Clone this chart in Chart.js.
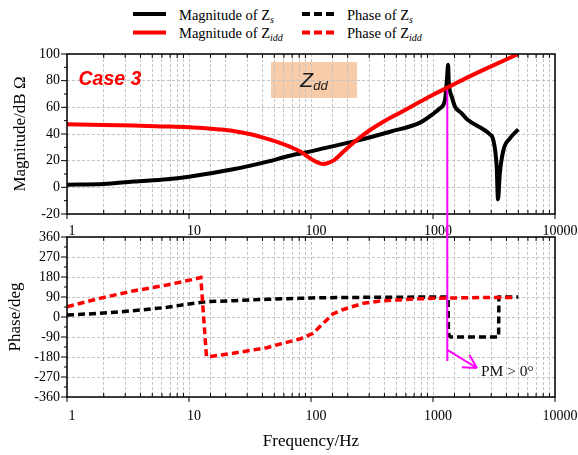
<!DOCTYPE html>
<html>
<head>
<meta charset="utf-8">
<script src="https://cdn.jsdelivr.net/npm/chart.js@4.4.0/dist/chart.umd.min.js"></script>
<style>
  body { margin: 0; background: #fff; width: 578px; height: 455px; position: relative; overflow: hidden;
         font-family: "Liberation Serif", "Times New Roman", serif; }
  canvas { position: absolute; left: 0; }
  #topChart { top: 40px; }
  #botChart { top: 226px; }
  #legendLines { position: absolute; left: 0; top: 0; }
  .lg { position: absolute; font-size: 14.5px; line-height: 1; white-space: nowrap; color: #000; }
  .lg sub { font-style: italic; font-size: 10px; vertical-align: -3px; line-height: 0; }
</style>
</head>
<body>

<svg id="legendLines" width="578" height="45">
  <line x1="133" y1="14" x2="166" y2="14" stroke="#000" stroke-width="4"/>
  <line x1="302" y1="14" x2="334" y2="14" stroke="#000" stroke-width="4" stroke-dasharray="8,4"/>
  <line x1="133" y1="32.5" x2="166" y2="32.5" stroke="#ff0000" stroke-width="4"/>
  <line x1="302" y1="32.5" x2="334" y2="32.5" stroke="#ff0000" stroke-width="4" stroke-dasharray="8,4"/>
</svg>
<div class="lg" style="left:179px;top:8px">Magnitude of Z<sub>s</sub></div>
<div class="lg" style="left:347px;top:8px">Phase of Z<sub>s</sub></div>
<div class="lg" style="left:179px;top:26px">Magnitude of Z<sub>idd</sub></div>
<div class="lg" style="left:347px;top:26px">Phase of Z<sub>idd</sub></div>

<canvas id="topChart" width="578" height="196"></canvas>
<canvas id="botChart" width="578" height="229"></canvas>

<script>
/* ---------- data ---------- */
const freqTicks  = [1, 10, 100, 1000, 10000];
const magTicks   = [-20, 0, 20, 40, 60, 80, 100];
const phaseTicks = [-360, -270, -180, -90, 0, 90, 180, 270, 360];

// magnitude of Zs (black, solid)
const zsMagFreq = [1, 2, 3.5, 6.6, 10, 23, 44, 67, 100, 126, 238, 444, 782, 1000, 1140, 1254, 1300, 1330,
                   1345, 1370, 1423, 1515, 1719, 1900, 2590, 2900, 3120, 3326, 3410, 3530, 3780, 4270, 5000];
const zsMag     = [2, 2.5, 4.3, 6, 8, 13.5, 19.3, 23.7, 27, 29.2, 35, 41.7, 48.5, 55, 59.3, 65.5, 80.5, 92,
                   80, 73, 68, 60.5, 55.5, 51, 43.5, 40, 35.5, 15.5, -9, 10.5, 28, 36.7, 43.5];

// magnitude of Zidd (red, solid)
const zddMagFreq = [1, 2, 3.5, 6, 10, 17, 23, 32, 44, 57, 67, 81, 104.5, 126, 152, 184, 237, 305, 392, 537,
                    782, 1000, 1330, 1900, 3120, 5000];
const zddMag     = [47.3, 46.8, 46.3, 45.7, 45, 43.5, 42.3, 39.8, 36.3, 33, 30.5, 27, 20.3, 17.5, 20, 26.7,
                    35.5, 43, 49.2, 56, 64.2, 69.5, 75, 82.3, 91.5, 100];

// phase of Zs (black, dashed)
const zsPhaseFreq = [1, 1.86, 3.47, 6.6, 10, 14, 23, 43.6, 81, 100, 200, 500, 1000, 1330, 1338, 1365, 1400,
                     3450, 3470, 5000];
const zsPhase     = [9, 16.5, 28, 43.5, 58.5, 69, 73.5, 79.5, 84, 86, 88, 89, 90, 90, -73, -86, -90,
                     -90, 90, 90];

// phase of Zidd (red, dashed)
const zddPhaseFreq = [1, 1.86, 3.47, 6.6, 10.85, 12.5, 13.9, 15, 23, 43.6, 56, 81, 104, 126, 151, 179, 209,
                      269, 368, 505, 689, 1000, 2000, 4800];
const zddPhase     = [46, 84, 117, 144, 169.5, 178, -178, -178, -163, -138, -121.5, -99, -73.5, -28.5, 13.5,
                      31.5, 43.5, 61.5, 72, 76.5, 81, 84, 87, 88];

/* ---------- annotations (data coordinates) ---------- */
const caseLabel = { text: 'Case 3', f: 2.25, v: 80.5 };
const zddBox = { f0: 47, f1: 238, v0: 67, v1: 94 };
const pmFreq = 1310;
const pmTopMag = 73;
const pmBottomPhase = -198;
const pmArrow = { f0: 1310, v0: -148, f1: 2290, v1: -229.5 };
const pmLabel = { text: 'PM > 0°', f: 2470, v: -247.5 };

const SERIF = '"Liberation Serif", "Times New Roman", serif';
const SANS = '"Liberation Sans", Arial, sans-serif';
const MAGENTA = '#ff00ff';
const GRID = '#c4c4c4';

Chart.defaults.font.family = SERIF;
Chart.defaults.color = '#000';

const pts = (fs, vs) => fs.map((f, i) => ({ x: f, y: vs[i] }));
const isDecade = v => Math.abs(Math.log10(v) - Math.round(Math.log10(v))) < 1e-6;

function freqAxis(labelPad, height, title) {
  return {
    type: 'logarithmic', min: 1, max: 10000,
    grid: { color: GRID, lineWidth: 1, drawTicks: false },
    border: { display: false, dash: [3, 2] },
    ticks: {
      autoSkip: false, maxRotation: 0, padding: labelPad, labelOffset: 5, font: { size: 14 },
      callback: v => freqTicks.some(t => Math.abs(t - v) < 1e-6) ? String(v) : ''
    },
    title: title
      ? { display: true, text: title, font: { size: 17 }, padding: { top: 0, bottom: 3 } }
      : { display: false },
    afterFit: s => { s.height = height; s.paddingLeft = 0; s.paddingRight = 0; }
  };
}

function valueAxis(min, max, tickList, title, titlePad) {
  return {
    min: min, max: max,
    afterBuildTicks: s => { s.ticks = tickList.map(v => ({ value: v })); },
    grid: { color: GRID, lineWidth: 1, drawTicks: false },
    border: { display: false, dash: [3, 2] },
    ticks: { autoSkip: false, padding: 7, font: { size: 14 } },
    title: { display: true, text: title, font: { size: 17 }, padding: { top: titlePad, bottom: 0 } },
    afterFit: s => { s.width = 67; s.paddingTop = 0; s.paddingBottom = 0; }
  };
}

// black frame, outward y ticks (major + minor), x ticks on the box edges
function drawFrame(chart) {
  const { ctx, chartArea: a, scales: { x, y } } = chart;
  ctx.save();
  ctx.strokeStyle = '#000';
  ctx.lineWidth = 1;
  ctx.beginPath();
  x.ticks.forEach(t => {
    const px = x.getPixelForValue(t.value);
    if (isDecade(t.value)) {
      ctx.moveTo(px, a.bottom); ctx.lineTo(px, a.bottom + 5);
    } else {
      ctx.moveTo(px, a.bottom); ctx.lineTo(px, a.bottom - 4);
      ctx.moveTo(px, a.top); ctx.lineTo(px, a.top + 4);
    }
  });
  const yv = y.ticks.map(t => t.value);
  yv.forEach((v, i) => {
    const py = y.getPixelForValue(v);
    ctx.moveTo(a.left - 6, py); ctx.lineTo(a.left, py);
    if (i < yv.length - 1) {
      const pm = y.getPixelForValue((v + yv[i + 1]) / 2);
      ctx.moveTo(a.left - 3, pm); ctx.lineTo(a.left, pm);
    }
  });
  ctx.stroke();
  ctx.lineWidth = 1.5;
  ctx.strokeRect(a.left, a.top, a.right - a.left, a.bottom - a.top);
  ctx.restore();
}

const topDecor = {
  id: 'topDecor',
  beforeDraw(chart) {
    const { ctx, scales: { x, y } } = chart;
    const x0 = x.getPixelForValue(zddBox.f0), x1 = x.getPixelForValue(zddBox.f1);
    const y0 = y.getPixelForValue(zddBox.v1), y1 = y.getPixelForValue(zddBox.v0);
    ctx.save();
    ctx.fillStyle = '#f8cba9';
    ctx.fillRect(x0, y0, x1 - x0, y1 - y0);
    ctx.restore();
  },
  beforeDatasetsDraw(chart) {
    const { ctx, scales: { x, y } } = chart;
    ctx.save();
    // Case 3
    ctx.font = 'italic bold 19.5px ' + SANS;
    ctx.fillStyle = '#ff0000';
    ctx.textAlign = 'center';
    ctx.textBaseline = 'middle';
    ctx.fillText(caseLabel.text, x.getPixelForValue(caseLabel.f), y.getPixelForValue(caseLabel.v));
    // Z_dd
    const cx = (x.getPixelForValue(zddBox.f0) + x.getPixelForValue(zddBox.f1)) / 2;
    const cy = (y.getPixelForValue(zddBox.v0) + y.getPixelForValue(zddBox.v1)) / 2;
    const zFont = 'italic 21px ' + SANS, dFont = 'italic 13px ' + SANS;
    ctx.font = zFont; const wz = ctx.measureText('Z').width;
    ctx.font = dFont; const wd = ctx.measureText('dd').width;
    const sx = cx - (wz + wd) / 2;
    ctx.fillStyle = '#1a1a1a';
    ctx.textAlign = 'left';
    ctx.textBaseline = 'alphabetic';
    ctx.font = zFont; ctx.fillText('Z', sx, cy + 7);
    ctx.font = dFont; ctx.fillText('dd', sx + wz, cy + 10);
    ctx.restore();
  },
  afterDatasetsDraw(chart) {
    drawFrame(chart);
    const { ctx, scales: { x, y } } = chart;
    const px = x.getPixelForValue(pmFreq);
    ctx.save();
    ctx.strokeStyle = MAGENTA;
    ctx.lineWidth = 2;
    ctx.beginPath();
    ctx.moveTo(px, y.getPixelForValue(pmTopMag));
    ctx.lineTo(px, chart.height);
    ctx.stroke();
    ctx.restore();
  }
};

const botDecor = {
  id: 'botDecor',
  afterDatasetsDraw(chart) {
    drawFrame(chart);
    const { ctx, scales: { x, y } } = chart;
    const px = x.getPixelForValue(pmFreq);
    ctx.save();
    ctx.strokeStyle = MAGENTA;
    ctx.lineWidth = 2;
    ctx.beginPath();
    ctx.moveTo(px, 0);
    ctx.lineTo(px, y.getPixelForValue(pmBottomPhase));
    // arrow
    const ax0 = x.getPixelForValue(pmArrow.f0), ay0 = y.getPixelForValue(pmArrow.v0);
    const ax1 = x.getPixelForValue(pmArrow.f1), ay1 = y.getPixelForValue(pmArrow.v1);
    ctx.moveTo(ax0, ay0);
    ctx.lineTo(ax1, ay1);
    const ang = Math.atan2(ay0 - ay1, ax0 - ax1);
    [-0.5, 0.5].forEach(d => {
      ctx.moveTo(ax1, ay1);
      ctx.lineTo(ax1 + 15 * Math.cos(ang + d), ay1 + 15 * Math.sin(ang + d));
    });
    ctx.stroke();
    ctx.font = '15.5px ' + SERIF;
    ctx.fillStyle = '#111';
    ctx.textAlign = 'left';
    ctx.textBaseline = 'middle';
    ctx.fillText(pmLabel.text, x.getPixelForValue(pmLabel.f), y.getPixelForValue(pmLabel.v));
    ctx.restore();
  }
};

const common = {
  responsive: false,
  animation: false,
  devicePixelRatio: 1,
  events: [],
  plugins: { legend: { display: false }, tooltip: { enabled: false } },
  elements: { point: { radius: 0 } }
};

new Chart(document.getElementById('topChart'), {
  type: 'line',
  data: {
    datasets: [
      { label: 'Magnitude of Zidd', data: pts(zddMagFreq, zddMag), borderColor: '#ff0000', borderWidth: 4,
        cubicInterpolationMode: 'monotone' },
      { label: 'Magnitude of Zs', data: pts(zsMagFreq, zsMag), borderColor: '#000000', borderWidth: 4,
        cubicInterpolationMode: 'monotone' }
    ]
  },
  options: Object.assign({}, common, {
    layout: { padding: { top: 14, right: 23, bottom: 0, left: 0 } },
    scales: {
      x: freqAxis(9, 22, null),
      y: valueAxis(-20, 100, magTicks, 'Magnitude/dB Ω', 10)
    }
  }),
  plugins: [topDecor]
});

new Chart(document.getElementById('botChart'), {
  type: 'line',
  data: {
    datasets: [
      { label: 'Phase of Zidd', data: pts(zddPhaseFreq, zddPhase), borderColor: '#ff0000', borderWidth: 3.5,
        borderDash: [7, 4], tension: 0 },
      { label: 'Phase of Zs', data: pts(zsPhaseFreq, zsPhase), borderColor: '#000000', borderWidth: 3.5,
        borderDash: [7, 4], tension: 0 }
    ]
  },
  options: Object.assign({}, common, {
    layout: { padding: { top: 11, right: 23, bottom: 0, left: 0 } },
    scales: {
      x: freqAxis(11, 58, 'Frequency/Hz'),
      y: valueAxis(-360, 360, phaseTicks, 'Phase/deg', 5)
    }
  }),
  plugins: [botDecor]
});
</script>
</body>
</html>
